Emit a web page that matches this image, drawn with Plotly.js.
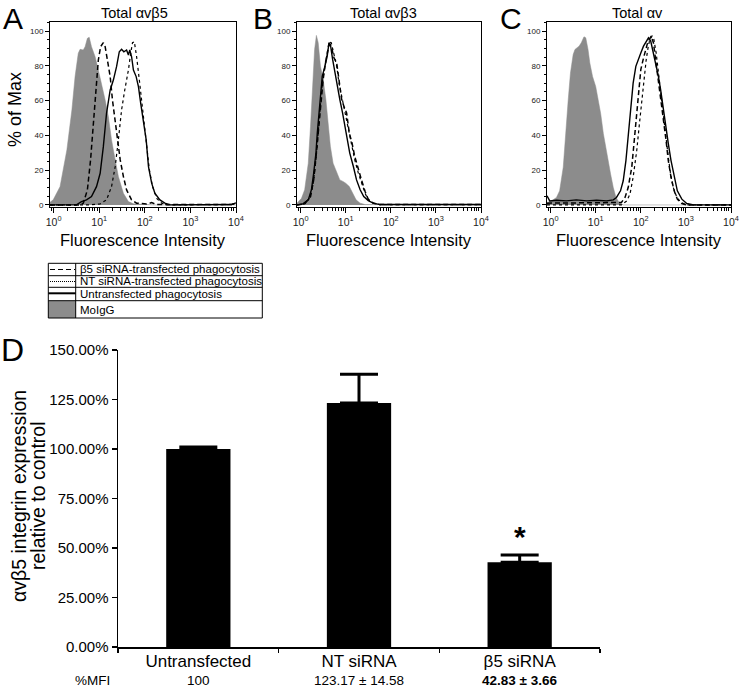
<!DOCTYPE html>
<html><head><meta charset="utf-8">
<script src="https://cdn.plot.ly/plotly-3.0.1.min.js"></script>
<style>html,body{margin:0;padding:0;background:#fff}#chart{width:740px;height:689px}</style>
</head><body><div id="chart"></div>
<script>
// ---------- Panel A: Total αvβ5 (log10 fluorescence, % of max) ----------
const A_moigg_log = [-0.08,-0.01,0.14,0.29,0.40,0.47,0.54,0.58,0.65,0.69,0.74,0.78,0.83,0.91,0.98,1.05,1.13,1.20,1.27,1.35,1.42,1.53,1.64,1.75,2.2,4];
const A_moigg_pct = [1.5,2.9,10.5,31.6,54.6,73.8,87.2,89.5,89.1,91,95.8,96.4,91,85.2,77.6,69.9,60.3,50.8,37.4,25.9,16.3,6.7,1.9,0.6,0,0];
const A_b5_log = [-0.08,0.58,0.65,0.74,0.81,0.87,0.92,0.98,1.03,1.09,1.13,1.18,1.24,1.29,1.35,1.40,1.46,1.53,1.60,1.71,1.82,2.04,2.15,2.26,3.9,4];
const A_b5_pct = [0,0,1,8.6,25.9,45,66.1,83.3,91,93.3,91,83.3,73.8,60.3,48.9,37.4,25.9,16.3,8.6,2.9,1,0.5,1.3,0.2,0.2,1];
const A_nt_log = [-0.08,0.8,1.02,1.16,1.27,1.35,1.42,1.49,1.56,1.64,1.69,1.73,1.77,1.82,1.88,1.93,1.98,2.04,2.10,2.17,2.26,2.37,2.48,3.9,4];
const A_nt_pct = [0,0,0.6,2.9,10.5,22,37.4,54.6,66.1,77.6,87.2,93.3,93.9,85.2,71.8,60.3,46.9,31.6,20.1,10.5,3.8,1,0,0.2,1];
const A_un_log = [-0.08,0.5,0.61,0.72,0.83,0.94,1.02,1.09,1.16,1.24,1.31,1.38,1.44,1.49,1.54,1.60,1.64,1.67,1.71,1.75,1.81,1.86,1.91,1.97,2.03,2.08,2.15,2.22,2.33,2.44,2.55,3.9,4];
const A_un_pct = [0,0,1.9,2.9,4.8,10.5,18.2,33.5,52.7,66.1,71.8,79.5,88.1,89.5,88.1,89.1,86.2,89.1,85.2,77.6,73.8,68,58.4,48.9,37.4,22,12.5,6.7,2.9,1,0,0.2,1.2];

// ---------- Panel B: Total αvβ3 ----------
const B_moigg_log = [-0.08,0.02,0.09,0.17,0.22,0.26,0.31,0.35,0.39,0.44,0.50,0.56,0.61,0.66,0.72,0.80,0.87,0.94,1.00,1.08,1.15,1.23,1.32,1.43,4];
const B_moigg_pct = [1,3.8,8.7,24,45.2,68.3,89.4,97.5,93.3,79.8,72.1,60.6,47.1,33.7,24,18.3,14.4,13.5,12.5,10.6,6.7,2.9,1,0.2,0];
const B_b5_log = [-0.08,0.09,0.22,0.29,0.35,0.40,0.45,0.50,0.55,0.60,0.63,0.68,0.74,0.80,0.86,0.91,0.96,1.02,1.08,1.14,1.20,1.28,1.35,1.43,1.50,1.61,1.76,4];
const B_b5_pct = [0,0.6,4.8,14.4,29.8,45.2,60.6,72.1,81.7,87.5,92.3,91.3,84.6,81.7,68.3,60.6,56.7,52.9,41.3,35.6,27.9,20.2,14.4,7.7,3.3,1,0.2,0.2];
const B_nt_log = [-0.08,0.09,0.20,0.28,0.34,0.39,0.44,0.48,0.54,0.59,0.63,0.68,0.74,0.80,0.85,0.91,0.96,1.02,1.08,1.14,1.20,1.28,1.35,1.43,1.50,1.61,1.76,4];
const B_nt_pct = [0,0.6,3.8,12.5,26,41.3,56.7,70.2,79.8,87.5,93.7,93.3,85.6,79.8,70.2,62.5,54.8,47.1,39.4,33.7,26,18.3,12.5,6.7,2.9,1,0.2,0.2];
const B_un_log = [-0.08,0.05,0.17,0.24,0.29,0.34,0.37,0.41,0.45,0.48,0.54,0.59,0.63,0.66,0.71,0.76,0.81,0.87,0.93,0.98,1.03,1.09,1.17,1.24,1.32,1.40,1.50,1.61,1.76,4];
const B_un_pct = [0,0.6,2.9,8.7,18.3,29.8,41.3,52.9,64.4,74,79.8,85.6,93.3,92.3,83.7,76,68.3,60.6,52.9,45.2,37.5,29.8,22.1,14.4,8.7,4.8,2.5,1,0.2,0.2];

// ---------- Panel C: Total αv ----------
const C_moigg_log = [-0.08,0.02,0.13,0.20,0.28,0.33,0.39,0.44,0.50,0.54,0.59,0.63,0.68,0.74,0.78,0.83,0.87,0.93,1.00,1.06,1.11,1.17,1.23,1.28,1.33,1.39,1.45,1.52,1.61,4];
const C_moigg_pct = [1.4,2.3,4.3,8.1,21.7,41,60.3,75.8,86.5,89.4,90.3,91.3,93.2,96.7,96.1,89.4,81.6,73.9,68.1,60.3,52.6,41,31.3,23.6,17.8,10,4.3,1.4,0,0];
const C_b5_log = [-0.08,0.5,1.0,1.57,1.65,1.72,1.80,1.85,1.91,1.96,2.00,2.06,2.11,2.15,2.19,2.23,2.28,2.33,2.39,2.44,2.50,2.56,2.61,2.67,2.74,2.81,2.91,3.02,4];
const C_b5_pct = [1,1,1,1.4,4.3,10,21.7,35.2,50.7,66.2,77.8,84.5,89.4,93.2,95.2,97.1,93.2,83.6,72,60.3,48.7,37.1,25.5,15.9,8.1,3.3,0.8,0,0];
const C_nt_log = [-0.08,1.57,1.69,1.76,1.83,1.91,1.97,2.02,2.07,2.12,2.16,2.20,2.25,2.29,2.34,2.39,2.44,2.50,2.55,2.61,2.66,2.72,2.80,2.89,3.02,4];
const C_nt_pct = [0,0,2.3,6.2,15.9,31.3,46.8,60.3,73.9,83.6,90.3,95.2,97.1,95.2,87.4,75.8,64.2,50.7,39,27.5,17.8,10,4.3,1.4,0,0];
const C_un_log = [-0.08,-0.02,0.13,0.35,0.57,0.80,1.02,1.24,1.39,1.46,1.55,1.61,1.67,1.72,1.77,1.83,1.89,1.95,2.00,2.06,2.12,2.17,2.22,2.28,2.34,2.39,2.44,2.50,2.56,2.61,2.67,2.74,2.81,2.91,3.02,3.17,4];
const C_un_pct = [5.2,2.3,2.7,2.3,2.9,2.3,2.7,2.3,2.9,4.3,8.1,13.9,25.5,41,56.5,70,79.7,84.5,87.4,91.3,94.2,96.1,94.2,87.4,79.7,73.9,66.2,54.5,44.9,35.2,25.5,15.9,8.1,3.3,0.8,0,0];

// ---------- Panel D: bar chart ----------
const D_categories = ['Untransfected', 'NT siRNA', 'β5 siRNA'];
const D_values = [100, 123.17, 42.83];
const D_errors = [1, 14.58, 3.66];
const D_mfi = ['100', '123.17 ± 14.58', '<b>42.83 ± 3.66</b>'];
const xTickVals = [1, 10, 100, 1000, 10000];
const xTickText = ['10<sup>0</sup>','10<sup>1</sup>','10<sup>2</sup>','10<sup>3</sup>','10<sup>4</sup>'];
const legendLabels = ['β5 siRNA-transfected phagocytosis','NT siRNA-transfected phagocytosis','Untransfected phagocytosis','MoIgG'];
const panelTitles = ['Total αvβ5','Total αvβ3','Total αv'];

// ---------- helpers ----------
const W = 740, H = 689;
const px = x => x / W;
const py = y => 1 - y / H;
const pow10 = arr => arr.map(v => Math.pow(10, v));
const FONT = 'Liberation Sans, Arial, sans-serif';
const GRAY = '#8c8c8c';

const minorVals = [];
for (let k = -1; k < 4; k++) for (let d = 2; d <= 9; d++) minorVals.push(d * Math.pow(10, k));

const traces = [];
function addPanel(ax, g, un, nt, b5) {
  const xa = 'x' + ax, ya = 'y' + ax;
  traces.push({type:'scatter', mode:'lines', x:pow10(g[0]), y:g[1], xaxis:xa, yaxis:ya,
    fill:'tozeroy', fillcolor:GRAY, line:{color:GRAY, width:0.5}, hoverinfo:'skip'});
  traces.push({type:'scatter', mode:'lines', x:pow10(un[0]), y:un[1], xaxis:xa, yaxis:ya,
    line:{color:'#000', width:1.4}, hoverinfo:'skip'});
  traces.push({type:'scatter', mode:'lines', x:pow10(nt[0]), y:nt[1], xaxis:xa, yaxis:ya,
    line:{color:'#000', width:1.2, dash:'dot'}, hoverinfo:'skip'});
  traces.push({type:'scatter', mode:'lines', x:pow10(b5[0]), y:b5[1], xaxis:xa, yaxis:ya,
    line:{color:'#000', width:1.5, dash:'5px,3px'}, hoverinfo:'skip'});
}
addPanel('', [A_moigg_log, A_moigg_pct], [A_un_log, A_un_pct], [A_nt_log, A_nt_pct], [A_b5_log, A_b5_pct]);
addPanel('2', [B_moigg_log, B_moigg_pct], [B_un_log, B_un_pct], [B_nt_log, B_nt_pct], [B_b5_log, B_b5_pct]);
addPanel('3', [C_moigg_log, C_moigg_pct], [C_un_log, C_un_pct], [C_nt_log, C_nt_pct], [C_b5_log, C_b5_pct]);

traces.push({type:'bar', x:D_categories, y:D_values, xaxis:'x4', yaxis:'y4', width:0.4,
  marker:{color:'#000', line:{width:0}},
  error_y:{type:'data', array:D_errors, arrayminus:[0,0,0], symmetric:false, color:'#000', thickness:3, width:19},
  hoverinfo:'skip'});

function histX(x0, x1, anchor) {
  return {domain:[px(x0), px(x1)], anchor:anchor, type:'log', range:[-0.08, 4],
    showline:true, mirror:true, linecolor:'#000', linewidth:1, ticks:'outside', ticklen:5, tickwidth:1, tickcolor:'#000',
    tickmode:'array', tickvals:xTickVals, ticktext:xTickText, tickfont:{family:FONT, size:10.5, color:'#222'},
    showgrid:false, zeroline:false, fixedrange:true,
    minor:{ticks:'outside', ticklen:2.5, tickwidth:1, tickcolor:'#000', tickmode:'array', tickvals:minorVals, showgrid:false}};
}
function histY(anchor) {
  return {domain:[py(207), py(22)], anchor:anchor, range:[-1.2, 105.2],
    showline:true, mirror:true, linecolor:'#000', linewidth:1, ticks:'outside', ticklen:4, tickwidth:1, tickcolor:'#000',
    tick0:0, dtick:20, tickfont:{family:FONT, size:8, color:'#222'}, showgrid:false, zeroline:false, fixedrange:true,
    minor:{ticks:'outside', ticklen:2, tickwidth:1, tickcolor:'#000', dtick:5, showgrid:false}};
}

const annotations = [];
function ann(x, y, text, size, opts) {
  annotations.push(Object.assign({xref:'paper', yref:'paper', x:px(x), y:py(y), text:text, showarrow:false,
    font:{family:FONT, size:size, color:'#000'}, xanchor:'center', yanchor:'middle'}, opts || {}));
}
// panel letters
ann(13, 0, 'A', 30, {yanchor:'top'}); ann(263, 0, 'B', 30, {yanchor:'top'}); ann(511, 0, 'C', 30, {yanchor:'top'});
ann(12, 350, 'D', 32);
// panel titles
ann(134, 13, panelTitles[0], 14.5); ann(383, 13, panelTitles[1], 14.5); ann(637, 13, panelTitles[2], 14.5);
// x titles
ann(142.5, 240, 'Fluorescence Intensity', 16.5); ann(389, 240, 'Fluorescence Intensity', 16.5); ann(639, 240, 'Fluorescence Intensity', 16.5);
// y title A
ann(15, 110, '% of Max', 18, {textangle:-90});
// legend texts
const rowY = [269.5, 281.5, 294, 309.5];
legendLabels.forEach((t, i) => ann(77.5, rowY[i], t, 11.5, {xanchor:'left'}));
// D y title
ann(19, 496, 'αvβ5 integrin expression', 19.5, {textangle:-90});
ann(38, 496, 'relative to control', 19.5, {textangle:-90});
// %MFI row (anchored to the bottom edge so it stays fully visible)
ann(92.5, 689, '%MFI', 13.5, {yanchor:'bottom', borderpad:0});
D_categories.forEach((c, i) => annotations.push({xref:'x4', yref:'paper', x:c, y:0, text:D_mfi[i], showarrow:false,
  font:{family:FONT, size:13.5, color:'#000'}, xanchor:'center', yanchor:'bottom', borderpad:0}));
// asterisk
annotations.push({xref:'x4', yref:'y4', x:D_categories[2], y:56, text:'<b>*</b>', showarrow:false,
  font:{family:FONT, size:30, color:'#000'}, xanchor:'center', yanchor:'middle'});

// legend shapes
const shapes = [];
const L = 48.3, R = 262.3, T = 263.3, B = 318, M = 75.7;
const line = (x0, y0, x1, y1, extra) => shapes.push(Object.assign({type:'line', xref:'paper', yref:'paper',
  x0:px(x0), y0:py(y0), x1:px(x1), y1:py(y1), line:{color:'#000', width:1}}, extra || {}));
shapes.push({type:'rect', xref:'paper', yref:'paper', x0:px(L), x1:px(M), y0:py(B), y1:py(301), fillcolor:GRAY, line:{width:0}});
shapes.push({type:'rect', xref:'paper', yref:'paper', x0:px(L), x1:px(R), y0:py(B), y1:py(T), line:{color:'#000', width:1}});
line(M, T, M, B);
[275.7, 287.3, 300.7].forEach(y => line(L, y, R, y));
line(50, rowY[0], 75, rowY[0], {line:{color:'#000', width:1.2, dash:'5px,3px'}});
line(50, rowY[1], 75, rowY[1], {line:{color:'#000', width:1, dash:'1px,1px'}});
line(48.3, 293.3, 75.7, 293.3, {line:{color:'#000', width:2}});

const layout = {
  width: W, height: H, margin:{l:0, r:0, t:0, b:0}, paper_bgcolor:'#fff', plot_bgcolor:'rgba(0,0,0,0)',
  showlegend:false, font:{family:FONT, color:'#000'},
  xaxis: histX(50, 236, 'y'), yaxis: histY('x'),
  xaxis2: histX(297, 481, 'y2'), yaxis2: histY('x2'),
  xaxis3: histX(547, 731, 'y3'), yaxis3: histY('x3'),
  xaxis4: {domain:[px(118), px(600)], anchor:'y4', type:'category', range:[-0.5, 2.5],
    showline:true, linecolor:'#000', linewidth:1.5, ticks:'outside', tickson:'boundaries', ticklen:4, tickwidth:1.5, tickcolor:'#000',
    ticklabelstandoff:-2, tickfont:{family:FONT, size:17, color:'#000'}, showgrid:false, zeroline:false, fixedrange:true},
  yaxis4: {domain:[py(647), py(350)], anchor:'x4', range:[0, 150], tick0:0, dtick:25, tickformat:'.2f', ticksuffix:'%',
    showline:true, linecolor:'#000', linewidth:1.5, ticks:'outside', ticklen:5, tickwidth:1.5, tickcolor:'#000',
    tickfont:{family:FONT, size:15, color:'#000'}, showgrid:false, zeroline:false, fixedrange:true},
  annotations: annotations, shapes: shapes, bargap: 0.6
};
Plotly.newPlot('chart', traces, layout, {staticPlot:true, displayModeBar:false});
</script></body></html>
